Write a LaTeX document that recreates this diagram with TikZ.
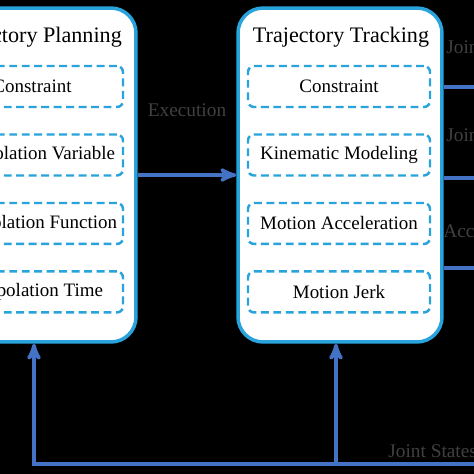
\documentclass[tikz,border=0pt]{standalone}
\usepackage{fontspec}
\setmainfont{Liberation Serif}
\usetikzlibrary{arrows,positioning,calc}
\definecolor{boxblue}{HTML}{29A3DC}
\definecolor{flowblue}{HTML}{4472C4}
\definecolor{labelgray}{HTML}{404040}

\begin{document}
\begin{tikzpicture}[x=0.02cm,y=-0.02cm,>=stealth',node distance=1.37cm,
  block/.style={draw=boxblue,line width=2pt,fill=white,rounded corners=0.5cm,minimum width=4.08cm,minimum height=6.68cm},
  item/.style={draw=boxblue,line width=1.4pt,dash pattern=on 4.5pt off 2.6pt,rounded corners=0.12cm,minimum width=3.64cm,minimum height=0.82cm,font=\fontsize{10.8}{13}\selectfont},
  title/.style={font=\fontsize{12.6}{15}\selectfont},
  flow/.style={->,draw=flowblue,line width=2pt},
  lbl/.style={text=labelgray,inner sep=0pt,font=\fontsize{11}{13}\selectfont}]
  \useasboundingbox (0,0) rectangle (474,474);
  \fill[black] (0,0) rectangle (474,474);
  \clip (0,0) rectangle (474,474);

  % planning block
  \node[block] (plan) at (34,175) {};
  \node[title] (plantitle) at (34,37) {Trajectory Planning};
  \node[item] (pcon) at (32,86.5) {Constraint};
  \node[item,below of=pcon] (pvar) {Interpolation Variable};
  \node[item,below of=pvar] (pfun) {Interpolation Function};
  \node[item,below of=pfun] (ptime) {Interpolation Time};

  % tracking block
  \node[block] (track) at (340,175) {};
  \node[title] (tracktitle) at (341,37) {Trajectory Tracking};
  \node[item] (tcon) at (339,86.5) {Constraint};
  \node[item,below of=tcon] (tkin) {Kinematic Modeling};
  \node[item,below of=tkin] (tacc) {Motion Acceleration};
  \node[item,below of=tacc] (tjerk) {Motion Jerk};

  % labels
  \node[lbl] (exec) at (187,110) {Execution};
  \node[lbl,anchor=west] (jpos) at (446,47) {Joint Position};
  \node[lbl,anchor=west] (jvel) at (446,137) {Joint Velocity};
  \node[lbl,anchor=west,align=center] (jacc) at (443,220) {Joint\\Acceleration};
  \node[lbl,anchor=west] (jstate) at (388,451) {Joint States};

  \coordinate (posout) at (540,87);
  \coordinate (velout) at (540,178);
  \coordinate (accout) at (540,268);
  \coordinate (fbin) at (540,464);
  \coordinate (fbsplit) at (336,464);

  \draw[flow] (plan) -- (track);
  \draw[flow] (track.east |- posout) -- (posout);
  \draw[flow] (track.east |- velout) -- (velout);
  \draw[flow] (track.east |- accout) -- (accout);
  \draw[flow] (fbin) -| (plan.south);
  \draw[flow] (fbsplit) -- (fbsplit |- track.south);
\end{tikzpicture}
\end{document}
